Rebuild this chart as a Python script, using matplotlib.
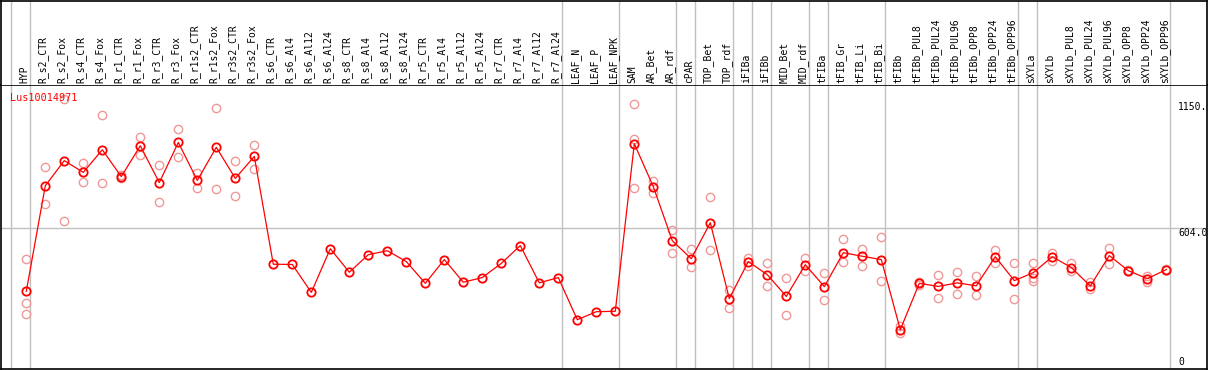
import matplotlib
matplotlib.use("Agg")
import matplotlib.pyplot as plt

categories = ["HYP", "R_s2_CTR", "R_s2_Fox", "R_s4_CTR", "R_s4_Fox", "R_r1_CTR", "R_r1_Fox",
              "R_r3_CTR", "R_r3_Fox", "R_r1s2_CTR", "R_r1s2_Fox", "R_r3s2_CTR", "R_r3s2_Fox",
              "R_s6_CTR", "R_s6_Al4", "R_s6_Al12", "R_s6_Al24", "R_s8_CTR", "R_s8_Al4",
              "R_s8_Al12", "R_s8_Al24", "R_r5_CTR", "R_r5_Al4", "R_r5_Al12", "R_r5_Al24",
              "R_r7_CTR", "R_r7_Al4", "R_r7_Al12", "R_r7_Al24", "LEAF_N", "LEAF_P", "LEAF_NPK",
              "SAM", "AR_Bet", "AR_rdf", "cPAR", "TOP_Bet", "TOP_rdf", "iFIBa", "iFIBb",
              "MID_Bet", "MID_rdf", "tFIBa", "tFIB_Gr", "tFIB_Li", "tFIB_Bi", "tFIBb",
              "tFIBb_PUL8", "tFIBb_PUL24", "tFIBb_PUL96", "tFIBb_OPP8", "tFIBb_OPP24",
              "tFIBb_OPP96", "sXYLa", "sXYLb", "sXYLb_PUL8", "sXYLb_PUL24", "sXYLb_PUL96",
              "sXYLb_OPP8", "sXYLb_OPP24", "sXYLb_OPP96"]

means = [320, 796, 909, 856, 958, 837, 976, 810, 991, 820, 969, 829, 928,
         442, 441, 315, 512, 406, 485, 503, 454, 356, 463, 361, 382, 446, 526, 358, 382,
         192, 228, 230,
         985, 792, 548, 467, 629, 287, 454, 395, 297, 440, 341, 494, 478, 463, 147,
         356, 342, 358, 345, 476, 368, 404, 476, 427, 344, 481, 413, 377, 418]

replicates = [[467, 269, 219], [882, 715], [1187, 635], [897, 814], [1113, 810], [845, 830],
              [1017, 936], [891, 724], [1053, 927], [852, 786], [1148, 783], [906, 751],
              [981, 873],
              [], [], [], [], [], [], [], [], [], [], [], [], [], [], [], [],
              [], [], [],
              [1163, 1008, 787], [819, 765], [598, 494], [509, 431], [747, 508], [328, 246],
              [470, 434], [449, 345], [382, 215], [469, 410], [404, 282], [557, 451],
              [512, 436], [563, 365], [162, 132],
              [362, 350], [395, 292], [409, 309], [391, 305], [505, 449], [449, 287],
              [449, 382, 366], [494, 455], [446, 410], [361, 329], [517, 445], [416, 410],
              [391, 364], [422, 414]]

group_ends = [-1, 0, 28, 31, 34, 35, 37, 38, 39, 41, 42, 45, 52, 53, 60]
y_ticks = [1150, 604, 0]
y_tick_labels = ["1150.", "604.0", "0"]
title = "Lus10014971"

W, H = 1209, 370
fig = plt.figure(figsize=(W / 100, H / 100), dpi=100)
mono = "DejaVu Sans Mono"

# pixel geometry
x0_px, dx_px = 26.3, 19.0
left_px, right_px = 1, 1207
top_plot_px, bot_plot_px = 85, 369
xl = ((left_px - x0_px) / dx_px, (right_px - x0_px) / dx_px)
y0_px, scale = 362.3, 134.0 / 604.0
yl = ((y0_px - bot_plot_px) / scale, (y0_px - top_plot_px) / scale)

ax = fig.add_axes([left_px / W, (H - bot_plot_px) / H, (right_px - left_px) / W,
                   (bot_plot_px - top_plot_px) / H])
hx = fig.add_axes([left_px / W, (H - top_plot_px) / H, (right_px - left_px) / W,
                   (top_plot_px - 0.5) / H])

for a in (ax, hx):
    a.set_xlim(*xl)
    a.set_xticks([])
    a.set_yticks([])
    for s in a.spines.values():
        s.set_color("black")
        s.set_linewidth(1.2)
    for g in group_ends:
        a.axvline(g + 0.22, color="#c0c0c0", lw=1.0, zorder=0)
ax.set_ylim(*yl)
hx.set_ylim(0, top_plot_px)
hx.spines["bottom"].set_visible(False)

ax.axhline(604, color="#c0c0c0", lw=1.0, zorder=0)

xs = list(range(len(categories)))
rx, ry = [], []
for i, vals in enumerate(replicates):
    for v in vals:
        rx.append(i)
        ry.append(v)
ax.plot(rx, ry, linestyle="none", marker="o", ms=6, mfc="none", mec="#f09898", mew=1.0,
        zorder=2)
ax.plot(xs, means, color="red", lw=0.9, marker="o", ms=6, mfc="none", mec="red", mew=1.3,
        zorder=3)

for i, lab in enumerate(categories):
    hx.text(i - 0.1, 2, lab, rotation=90, ha="center", va="bottom", fontsize=7,
            family=mono, color="black")

ax.text((9.5 - x0_px) / dx_px, yl[1] - 8 / scale, title, color="red", fontsize=7.3,
        family=mono, ha="left", va="top", zorder=5)

tx = (1178 - x0_px) / dx_px
ax.text(tx, y_ticks[0], y_tick_labels[0], fontsize=7, family=mono, ha="left", va="center",
        clip_on=False)
ax.text(tx, y_ticks[1], y_tick_labels[1], fontsize=7, family=mono, ha="left", va="top",
        clip_on=False)
ax.text(tx, y_ticks[2], y_tick_labels[2], fontsize=7, family=mono, ha="left", va="center",
        clip_on=False)

fig.savefig("out.png", dpi=100)
